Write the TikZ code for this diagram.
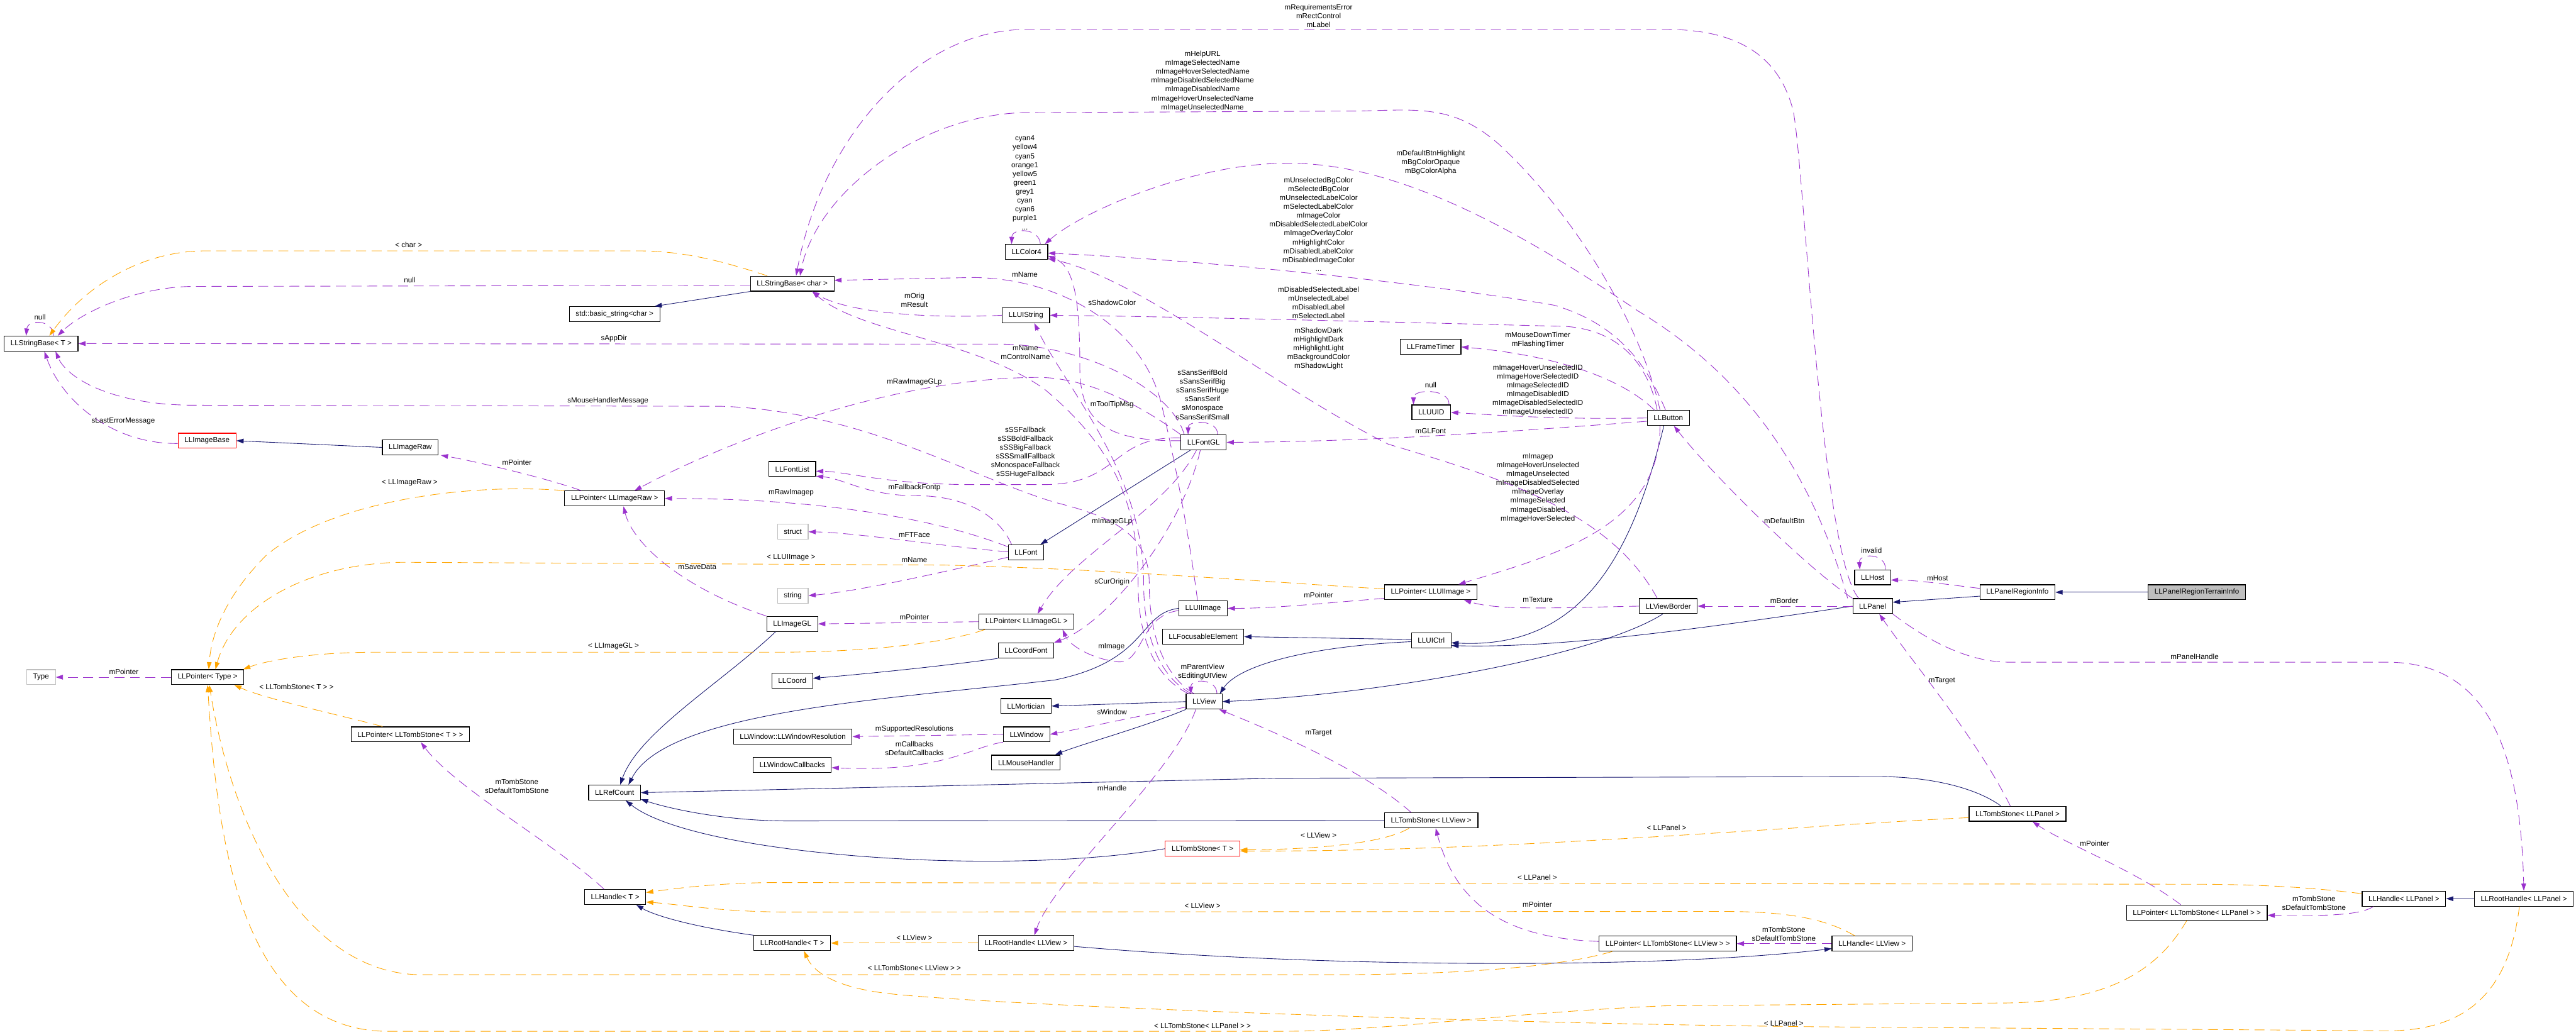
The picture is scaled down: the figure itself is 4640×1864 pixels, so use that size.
\documentclass[tikz,border=0pt]{standalone}
\usepackage{fontspec}
\setmainfont{Liberation Sans}
\usetikzlibrary{arrows.meta}
\definecolor{inhblue}{RGB}{25,25,112}
\definecolor{usepurple}{RGB}{154,50,205}
\definecolor{tmplorange}{RGB}{255,165,0}
\definecolor{boxgrey}{RGB}{191,191,191}

\begin{document}
\begin{tikzpicture}[
    x=0.1mm, y=-0.1mm,
    font=\fontsize{3.75pt}{4.55pt}\selectfont,
    cls/.style={rectangle, draw=black, line width=0.13mm, inner xsep=1.15mm, inner ysep=0pt, minimum height=2.7mm},
    undoc/.style={cls, draw=red},
    extcls/.style={cls, draw=boxgrey},
    rootcls/.style={cls, fill=boxgrey},
    inh/.style={-{Triangle[length=1.3mm,width=0.85mm]}, draw=inhblue, line width=0.1mm},
    uses/.style={-{Triangle[length=1.3mm,width=0.85mm]}, draw=usepurple, line width=0.1mm, dash pattern=on 1.8mm off 1mm},
    tmpl/.style={-{Triangle[length=1.3mm,width=0.85mm]}, draw=tmplorange, line width=0.1mm, dash pattern=on 1.8mm off 1mm},
    lbl/.style={align=center, inner sep=0pt}
]
\useasboundingbox (0,0) rectangle (4640,1864);

% classes
\node[rootcls] (tinfo) at (3957,1067) {LLPanelRegionTerrainInfo};
\node[cls] (rinfo) at (3634,1067) {LLPanelRegionInfo};
\node[cls] (host) at (3373,1040) {LLHost};
\node[cls] (panel) at (3373,1092) {LLPanel};
\node[cls] (vborder) at (3005,1092) {LLViewBorder};
\node[cls] (button) at (3005,753) {LLButton};
\node[cls] (ftimer) at (2577,625) {LLFrameTimer};
\node[cls] (uuid) at (2578,743) {LLUUID};
\node[cls] (ptruiimg) at (2577,1067) {LLPointer< LLUIImage >};
\node[cls] (uictrl) at (2578,1154) {LLUICtrl};
\node[cls] (fontgl) at (2168,797) {LLFontGL};
\node[cls] (uiimage) at (2167,1096) {LLUIImage};
\node[cls] (focus) at (2167,1147) {LLFocusableElement};
\node[cls] (view) at (2169,1264) {LLView};
\node[cls] (color) at (1849,454) {LLColor4};
\node[cls] (uistring) at (1848,568) {LLUIString};
\node[cls] (font) at (1848,995) {LLFont};
\node[cls] (ptrimggl) at (1849,1120) {LLPointer< LLImageGL >};
\node[cls] (coordfont) at (1848,1172) {LLCoordFont};
\node[cls] (mortician) at (1848,1272) {LLMortician};
\node[cls] (window) at (1849,1323) {LLWindow};
\node[cls] (mousehdl) at (1848,1374) {LLMouseHandler};
\node[undoc] (tombT) at (2166,1529) {LLTombStone< T >};
\node[cls] (rhview) at (1848,1699) {LLRootHandle< LLView >};
\node[cls] (strchar) at (1427,511) {LLStringBase< char >};
\node[cls] (fontlist) at (1427,845) {LLFontList};
\node[extcls] (cstruct) at (1428,958) {struct};
\node[extcls] (cstring) at (1428,1073) {string};
\node[cls] (imagegl) at (1427,1124) {LLImageGL};
\node[cls] (coord) at (1427,1226) {LLCoord};
\node[cls] (winres) at (1428,1327) {LLWindow::LLWindowResolution};
\node[cls] (wincb) at (1427,1378) {LLWindowCallbacks};
\node[cls] (rhT) at (1427,1699) {LLRootHandle< T >};
\node[cls] (basicstr) at (1107,566) {std::basic\_string<char >};
\node[cls] (ptrimgraw) at (1107,898) {LLPointer< LLImageRaw >};
\node[cls] (refcount) at (1107,1428) {LLRefCount};
\node[cls] (handleT) at (1108,1616) {LLHandle< T >};
\node[cls] (imageraw) at (739,806) {LLImageRaw};
\node[cls] (ptrtombT) at (739,1323) {LLPointer< LLTombStone< T > >};
\node[undoc] (imagebase) at (373,794) {LLImageBase};
\node[cls] (ptrtype) at (374,1220) {LLPointer< Type >};
\node[extcls] (typeT) at (74,1220) {Type};
\node[cls] (strT) at (74,619) {LLStringBase< T >};
\node[cls] (tombview) at (2578,1478) {LLTombStone< LLView >};
\node[cls] (ptrtombview) at (3004,1700) {LLPointer< LLTombStone< LLView > >};
\node[cls] (handleview) at (3372,1700) {LLHandle< LLView >};
\node[cls] (tombpanel) at (3634,1466) {LLTombStone< LLPanel >};
\node[cls] (ptrtombpanel) at (3957,1644) {LLPointer< LLTombStone< LLPanel > >};
\node[cls] (handlepanel) at (4330,1619) {LLHandle< LLPanel >};
\node[cls] (rhpanel) at (4546,1619) {LLRootHandle< LLPanel >};

% inheritance
\draw[inh] (tinfo) -- (rinfo);
\draw[inh] ([yshift=-0.7mm]rinfo.west) -- ([yshift=0.7mm]panel.east);
\draw[inh] (panel.west) .. controls (3050,1135) and (2800,1168) .. ([yshift=-0.9mm]uictrl.east);
\draw[inh] ([xshift=-0.8mm]button.south) .. controls (2940,1000) and (2850,1170) .. ([yshift=-0.4mm]uictrl.east);
\draw[inh] ([xshift=-1mm]vborder.south) .. controls (2880,1180) and (2500,1250) .. (view.east);
\draw[inh] ([yshift=0.2mm]uictrl.west) -- (focus.east);
\draw[inh] ([yshift=-0.2mm]uictrl.west) .. controls (2350,1165) and (2230,1200) .. ([xshift=-0.5mm]view.north east);
\draw[inh] (view.west) -- (mortician.east);
\draw[inh] (view.south west) .. controls (2060,1310) and (1950,1340) .. ([xshift=-1mm]mousehdl.north east);
\draw[inh] (uiimage.west) .. controls (2050,1105) and (2070,1190) .. (1900,1225) .. controls (1600,1260) and (1200,1280) .. ([xshift=2.5mm]refcount.north);
\draw[inh] ([xshift=-3mm]imagegl.south) .. controls (1300,1230) and (1150,1320) .. ([xshift=1mm]refcount.north);
\draw[inh] ([xshift=-3mm]tombpanel.north) .. controls (3560,1420) and (3480,1399) .. (3380,1399) -- (2300,1402) -- (refcount.east);
\draw[inh] (tombview.west) -- (1420,1479) .. controls (1300,1479) and (1200,1455) .. ([yshift=-1.2mm]refcount.east);
\draw[inh] (tombT.west) .. controls (1800,1580) and (1250,1540) .. ([xshift=2mm]refcount.south);
\draw[inh] (rhT.north west) .. controls (1250,1670) and (1180,1650) .. ([xshift=3.8mm]handleT.south);
\draw[inh] ([yshift=-0.6mm]rhview.east) .. controls (2400,1745) and (3000,1745) .. ([yshift=-0.9mm]handleview.west);
\draw[inh] (rhpanel) -- (handlepanel);
\draw[inh] (strchar.south west) -- ([xshift=-1mm]basicstr.north east);
\draw[inh] (imageraw.west) -- (imagebase.east);
\draw[inh] ([xshift=-2.4mm]fontgl.south) -- ([xshift=2.6mm]font.north);
\draw[inh] (coordfont.south west) .. controls (1700,1200) and (1550,1215) .. ([yshift=0.4mm]coord.east);

% usage
\draw[uses] ([yshift=0.7mm]rinfo.west) .. controls (3500,1052) and (3450,1045) .. ([yshift=-0.5mm]host.east) node[lbl] (lhost) at (3490,1042) {mHost};
\draw[uses] ([xshift=2.3mm]host.north) .. controls (3398,996) and (3348,996) .. ([xshift=-2.3mm]host.north) node[lbl] (linvalid) at (3371,992) {invalid};
\draw[uses] (panel.west) -- (vborder.east) node[lbl] (lborder) at (3214,1082) {mBorder};
\draw[uses] (panel.north west) .. controls (3250,1020) and (3080,850) .. ([xshift=1mm]button.south) node[lbl] (ldefbtn) at (3214,938) {mDefaultBtn};
\draw[uses] ([xshift=-2.5mm]panel.north) .. controls (3280,1000) and (3250,300) .. (3230,200) .. controls (3200,80) and (3100,53) .. (3000,53) -- (1850,53) .. controls (1650,53) and (1480,250) .. ([xshift=0.7mm]strchar.north) node[lbl] (lreq) at (2375,29) {mRequirementsError\\mRectControl\\mLabel};
\draw[uses] ([xshift=-4.5mm]panel.north) .. controls (3250,800) and (3100,650) .. (2950,560) .. controls (2700,390) and (2500,294) .. (2320,294) .. controls (2150,294) and (1950,380) .. ([xshift=-0.6mm]color.north east) node[lbl] (lbg) at (2577,293) {mDefaultBtnHighlight\\mBgColorOpaque\\mBgColorAlpha};
\draw[uses] ([xshift=-1.5mm]button.north) .. controls (2960,600) and (2850,400) .. (2700,260) .. controls (2620,190) and (2560,197) .. (2450,200) -- (1840,203) .. controls (1650,210) and (1470,350) .. ([xshift=1.4mm]strchar.north) node[lbl] (lhelp) at (2166,146) {mHelpURL\\mImageSelectedName\\mImageHoverSelectedName\\mImageDisabledSelectedName\\mImageDisabledName\\mImageHoverUnselectedName\\mImageUnselectedName};
\draw[uses] ([xshift=-0.5mm]button.north) .. controls (2960,640) and (2900,580) .. (2800,550) .. controls (2600,515) and (2200,470) .. ([yshift=-0.2mm]color.east) node[lbl] (lbtncol) at (2375,404) {mUnselectedBgColor\\mSelectedBgColor\\mUnselectedLabelColor\\mSelectedLabelColor\\mImageColor\\mDisabledSelectedLabelColor\\mImageOverlayColor\\mHighlightColor\\mDisabledLabelColor\\mDisabledImageColor\\...};
\draw[uses] ([xshift=-2mm]button.north) .. controls (2970,660) and (2920,595) .. (2820,588) .. controls (2500,580) and (2100,570) .. (uistring.east) node[lbl] (llabel) at (2375,545) {mDisabledSelectedLabel\\mUnselectedLabel\\mDisabledLabel\\mSelectedLabel};
\draw[uses] ([xshift=-2.5mm]button.north) .. controls (2920,680) and (2800,640) .. (ftimer.east) node[lbl] (ltimer) at (2770,612) {mMouseDownTimer\\mFlashingTimer};
\draw[uses] (button.west) .. controls (2800,756) and (2700,748) .. (uuid.east) node[lbl] (lids) at (2770,703) {mImageHoverUnselectedID\\mImageHoverSelectedID\\mImageSelectedID\\mImageDisabledID\\mImageDisabledSelectedID\\mImageUnselectedID};
\draw[uses] ([xshift=3.2mm]uuid.north) .. controls (2612,700) and (2546,700) .. ([xshift=-3.2mm]uuid.north) node[lbl] (lnull2) at (2577,694) {null};
\draw[uses] ([yshift=-0.6mm]button.west) .. controls (2750,775) and (2500,795) .. (fontgl.east) node[lbl] (lglfont) at (2577,776) {mGLFont};
\draw[uses] ([xshift=-1.5mm]button.south) .. controls (2990,950) and (2800,1000) .. ([xshift=5mm]ptruiimg.north) node[lbl] (limgp) at (2770,879) {mImagep\\mImageHoverUnselected\\mImageUnselected\\mImageDisabledSelected\\mImageOverlay\\mImageSelected\\mImageDisabled\\mImageHoverSelected};
\draw[uses] (vborder.west) .. controls (2800,1095) and (2700,1100) .. ([xshift=6mm]ptruiimg.south) node[lbl] (ltex) at (2770,1080) {mTexture};
\draw[uses] ([xshift=-2mm]vborder.north) .. controls (2900,920) and (2700,860) .. (2500,800) .. controls (2300,700) and (2050,500) .. ([yshift=-1.2mm]color.east) node[lbl] (lshadow) at (2375,628) {mShadowDark\\mHighlightDark\\mHighlightLight\\mBackgroundColor\\mShadowLight};
\draw[uses] ([yshift=-1.1mm]ptruiimg.west) .. controls (2400,1085) and (2300,1096) .. (uiimage.east) node[lbl] (lptr3) at (2375,1072) {mPointer};
\draw[uses] ([yshift=-0.4mm]uiimage.west) .. controls (2050,1110) and (2060,1200) .. (2010,1192) .. controls (1960,1185) and (1925,1160) .. ([xshift=6.5mm]ptrimggl.south) node[lbl] (limage) at (2002,1165) {mImage};
\draw[uses] ([xshift=-1.3mm]fontgl.south) .. controls (2100,920) and (1930,1000) .. ([xshift=2mm]ptrimggl.north) node[lbl] (limggl) at (2003,940) {mImageGLp};
\draw[uses] ([xshift=-0.6mm]fontgl.south) .. controls (2130,950) and (2000,1120) .. (coordfont.north east) node[lbl] (lorigin) at (2003,1048) {sCurOrigin};
\draw[uses] ([yshift=0.8mm]fontgl.west) .. controls (2000,785) and (2020,873) .. (1880,873) -- (1750,873) .. controls (1600,873) and (1520,849) .. ([yshift=-0.4mm]fontlist.east) node[lbl] (lfallback) at (1847,815) {sSSFallback\\sSSBoldFallback\\sSSBigFallback\\sSSSmallFallback\\sMonospaceFallback\\sSSHugeFallback};
\draw[uses] ([xshift=2.5mm]fontgl.north) .. controls (2195,756) and (2140,756) .. ([xshift=-2.8mm]fontgl.north) node[lbl] (lsans) at (2166,711) {sSansSerifBold\\sSansSerifBig\\sSansSerifHuge\\sSansSerif\\sMonospace\\sSansSerifSmall};
\draw[uses] ([yshift=0.3mm]fontgl.west) .. controls (1990,795) and (1945,760) .. (1945,660) .. controls (1945,540) and (1935,480) .. ([yshift=-0.7mm]color.east) node[lbl] (lsc) at (2003,545) {sShadowColor};
\draw[uses] (fontgl.north west) .. controls (2040,720) and (1950,680) .. (1870,680) .. controls (1600,680) and (1300,800) .. ([xshift=3.6mm]ptrimgraw.north) node[lbl] (lrawgl) at (1647,688) {mRawImageGLp};
\draw[uses] ([xshift=-3.5mm]fontgl.north) .. controls (2110,700) and (1950,620) .. (1800,620) -- (strT.east) node[lbl] (lappdir) at (1106,610) {sAppDir};
\draw[uses] ([xshift=-2.6mm]font.north) .. controls (1800,930) and (1740,893) .. (1650,893) .. controls (1560,893) and (1520,862) .. ([yshift=-1.3mm]fontlist.east) node[lbl] (lfbfont) at (1647,879) {mFallbackFontp};
\draw[uses] ([yshift=1mm]font.west) .. controls (1700,940) and (1500,898) .. (ptrimgraw.east) node[lbl] (lrawp) at (1425,888) {mRawImagep};
\draw[uses] ([yshift=0.1mm]font.west) .. controls (1700,985) and (1550,960) .. (cstruct.east) node[lbl] (lftface) at (1647,964) {mFTFace};
\draw[uses] ([yshift=-0.9mm]font.west) .. controls (1700,1030) and (1550,1065) .. (cstring.east) node[lbl] (lname2) at (1647,1009) {mName};
\draw[uses] (ptrimggl.west) -- (imagegl.east) node[lbl] (lptr4) at (1647,1112) {mPointer};
\draw[uses] (imagegl.north west) .. controls (1230,1060) and (1140,980) .. ([xshift=1.6mm]ptrimgraw.south) node[lbl] (lsave) at (1256,1021) {mSaveData};
\draw[uses] ([xshift=-6mm]ptrimgraw.north) .. controls (980,860) and (850,830) .. ([xshift=5.5mm]imageraw.south) node[lbl] (lptr2) at (931,833) {mPointer};
\draw[uses] ([yshift=-0.5mm]imagebase.west) .. controls (200,800) and (110,720) .. ([xshift=0.6mm]strT.south) node[lbl] (llasterr) at (222,759) {sLastErrorMessage};
\draw[uses] ([xshift=-1.8mm]view.north) .. controls (2100,1220) and (2070,1150) .. (2070,1050) .. controls (2070,960) and (2000,930) .. (1900,905) .. controls (1750,860) and (1550,740) .. (1300,732) -- (350,730) .. controls (200,730) and (120,680) .. ([xshift=2.6mm]strT.south) node[lbl] (lmousemsg) at (1095,722) {sMouseHandlerMessage};
\draw[uses] ([xshift=-2.8mm]view.north) .. controls (2080,1220) and (2050,1150) .. (2050,1050) .. controls (2050,900) and (2000,800) .. (1880,700) .. controls (1750,610) and (1550,600) .. ([xshift=3.6mm]strchar.south) node[lbl] (lname1) at (1847,635) {mName\\mControlName};
\draw[uses] ([xshift=-2.3mm]view.north) .. controls (2090,1220) and (2060,1150) .. (2060,1050) .. controls (2060,850) and (1920,700) .. ([xshift=1.5mm]uistring.south) node[lbl] (ltip) at (2003,729) {mToolTipMsg};
\draw[uses] ([xshift=-1mm]uiimage.north) .. controls (2140,950) and (2110,800) .. (2090,720) .. controls (2050,580) and (1900,500) .. (1750,500) -- ([yshift=0.6mm]strchar.east) node[lbl] (lname3) at (1846,494) {mName};
\draw[uses] ([xshift=2.3mm]view.north) .. controls (2192,1222) and (2145,1222) .. ([xshift=-2.4mm]view.north) node[lbl] (lparent) at (2166,1210) {mParentView\\sEditingUIView};
\draw[uses] ([yshift=-1mm]view.west) .. controls (2050,1290) and (1950,1312) .. (window.east) node[lbl] (lwin) at (2003,1283) {sWindow};
\draw[uses] ([xshift=-1.5mm]view.south) .. controls (2110,1400) and (1900,1580) .. ([xshift=1.5mm]rhview.north) node[lbl] (lhandle) at (2003,1420) {mHandle};
\draw[uses] (window.west) -- (winres.east) node[lbl] (lres) at (1647,1314) {mSupportedResolutions};
\draw[uses] (window.south west) .. controls (1750,1345) and (1700,1392) .. ([yshift=-0.5mm]wincb.east) node[lbl] (lcb) at (1647,1348) {mCallbacks\\sDefaultCallbacks};
\draw[uses] ([xshift=-3.6mm]tombview.north) .. controls (2460,1390) and (2300,1320) .. ([xshift=2.7mm]view.south) node[lbl] (ltarget1) at (2375,1320) {mTarget};
\draw[uses] ([xshift=-1.3mm]tombpanel.north) .. controls (3560,1330) and (3450,1200) .. ([xshift=1.2mm]panel.south) node[lbl] (ltarget2) at (3498,1227) {mTarget};
\draw[uses] (panel.south east) .. controls (3480,1160) and (3550,1193) .. (3620,1193) -- (4300,1193) .. controls (4480,1193) and (4540,1350) .. (rhpanel.north) node[lbl] (lpanelh) at (3953,1183) {mPanelHandle};
\draw[uses] ([xshift=-2.9mm]ptrtombpanel.north) .. controls (3850,1570) and (3720,1520) .. ([xshift=2.7mm]tombpanel.south) node[lbl] (lptr6) at (3773,1519) {mPointer};
\draw[uses] ([xshift=-5.5mm]handlepanel.south) .. controls (4250,1650) and (4180,1650) .. ([yshift=-0.5mm]ptrtombpanel.east) node[lbl] (lts3) at (4168,1627) {mTombStone\\sDefaultTombStone};
\draw[uses] ([yshift=0.4mm]ptrtombview.west) .. controls (2700,1690) and (2620,1620) .. ([xshift=0.8mm]tombview.south) node[lbl] (lptr5) at (2769,1629) {mPointer};
\draw[uses] (handleview.west) -- (ptrtombview.east) node[lbl] (lts2) at (3213,1683) {mTombStone\\sDefaultTombStone};
\draw[uses] ([xshift=-2mm]handleT.north) .. controls (1000,1520) and (820,1420) .. ([xshift=1.9mm]ptrtombT.south) node[lbl] (lts1) at (931,1416) {mTombStone\\sDefaultTombStone};
\draw[uses] (ptrtype.west) -- (typeT.east) node[lbl] (lptr1) at (223,1210) {mPointer};
\draw[uses] ([yshift=-0.3mm]strchar.west) -- (350,516) .. controls (250,516) and (150,560) .. ([xshift=3mm]strT.north) node[lbl] (lnull1) at (738,505) {null};
\draw[uses] ([xshift=2.2mm]strT.north) .. controls (96,575) and (50,575) .. ([xshift=-2.7mm]strT.north) node[lbl] (lnull0) at (72,571) {null};
\draw[uses] (uistring.west) .. controls (1650,575) and (1520,560) .. ([xshift=3.6mm]strchar.south) node[lbl] (lorig) at (1647,541) {mOrig\\mResult};
\draw[uses] ([xshift=2.5mm]color.north) .. controls (1872,410) and (1823,410) .. ([xshift=-2.7mm]color.north) node[lbl] (lcolors) at (1846,329) {cyan4\\yellow4\\cyan5\\orange1\\yellow5\\green1\\grey1\\cyan\\cyan6\\purple1\\...};

% template instances
\draw[tmpl] ([xshift=-4.5mm]strchar.north) .. controls (1300,470) and (1230,452) .. (1150,452) -- (370,452) .. controls (250,452) and (150,520) .. ([xshift=1.5mm]strT.north) node[lbl] (lchar) at (736,441) {< char >};
\draw[tmpl] (ptrimgraw.north west) .. controls (850,870) and (600,900) .. (480,1000) .. controls (400,1080) and (380,1150) .. ([xshift=0.2mm]ptrtype.north) node[lbl] (lraw) at (738,870) {< LLImageRaw >};
\draw[tmpl] ([yshift=0.6mm]ptruiimg.west) .. controls (2300,1050) and (2000,1025) .. (1700,1018) -- (730,1013) .. controls (560,1013) and (420,1090) .. ([xshift=1.4mm]ptrtype.north) node[lbl] (luiimg) at (1425,1004) {< LLUIImage >};
\draw[tmpl] ([xshift=-7.5mm]ptrimggl.south) .. controls (1700,1160) and (1550,1175) .. (1400,1175) -- (680,1175) .. controls (560,1175) and (480,1190) .. ([xshift=-0.2mm]ptrtype.north east) node[lbl] (limggl2) at (1105,1164) {< LLImageGL >};
\draw[tmpl] ([xshift=-5mm]ptrtombT.north) .. controls (620,1290) and (480,1260) .. ([xshift=-1.8mm]ptrtype.south east) node[lbl] (ltombT) at (534,1237) {< LLTombStone< T > >};
\draw[tmpl] ([xshift=-10mm]ptrtombview.south) .. controls (2800,1745) and (2600,1756) .. (2400,1756) -- (760,1756) .. controls (550,1756) and (420,1500) .. ([xshift=0.3mm]ptrtype.south) node[lbl] (ltombview) at (1647,1744) {< LLTombStone< LLView > >};
\draw[tmpl] ([xshift=-1.8mm]ptrtombpanel.south) .. controls (3880,1760) and (3780,1807) .. (3600,1807) -- (3000,1812) .. controls (2700,1825) and (2500,1858) .. (2300,1858) -- (700,1858) .. controls (430,1858) and (390,1500) .. (ptrtype.south) node[lbl] (ltombpanel) at (2166,1848) {< LLTombStone< LLPanel > >};
\draw[tmpl] ([xshift=-4mm]tombview.south) .. controls (2500,1515) and (2400,1530) .. ([yshift=-0.2mm]tombT.east) node[lbl] (lview1) at (2375,1505) {< LLView >};
\draw[tmpl] ([yshift=-0.7mm]tombpanel.west) .. controls (3200,1490) and (2700,1535) .. ([yshift=-0.4mm]tombT.east) node[lbl] (lpanel1) at (3002,1491) {< LLPanel >};
\draw[tmpl] ([yshift=0.9mm]handlepanel.west) .. controls (4150,1597) and (4050,1593) .. (3950,1593) -- (1400,1590) .. controls (1300,1590) and (1220,1600) .. ([yshift=0.8mm]handleT.east) node[lbl] (lpanel2) at (2769,1581) {< LLPanel >};
\draw[tmpl] ([xshift=-3.1mm]handleview.north) .. controls (3280,1650) and (3200,1642) .. (3100,1642) -- (1420,1643) .. controls (1300,1643) and (1230,1630) .. ([yshift=-0.9mm]handleT.east) node[lbl] (lview2) at (2166,1632) {< LLView >};
\draw[tmpl] (rhview.west) -- (rhT.east) node[lbl] (lview3) at (1647,1689) {< LLView >};
\draw[tmpl] ([xshift=-0.8mm]rhpanel.south) .. controls (4520,1780) and (4450,1857) .. (4300,1857) -- (3300,1850) .. controls (2700,1845) and (1800,1812) .. (1600,1790) .. controls (1500,1778) and (1465,1750) .. ([xshift=2.1mm]rhT.south) node[lbl] (lpanel3) at (3213,1843) {< LLPanel >};
\end{tikzpicture}
\end{document}
